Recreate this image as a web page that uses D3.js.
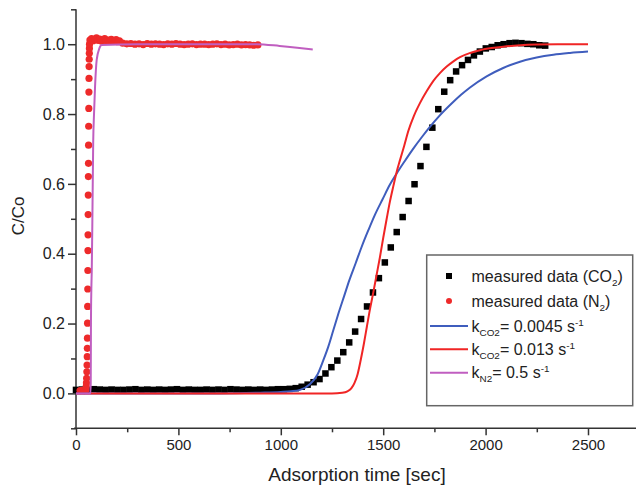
<!DOCTYPE html>
<html>
<head>
<meta charset="utf-8">
<script src="https://cdn.jsdelivr.net/npm/d3@7"></script>
<style>
  html, body { margin: 0; padding: 0; background: #fff; }
  svg { display: block; font-family: "Liberation Sans", Arial, sans-serif; }
</style>
</head>
<body>
<svg id="chart" width="636" height="491"></svg>
<script>
// ---------- data ----------
const xTicks = [0, 500, 1000, 1500, 2000, 2500];
const xMinorTicks = [250, 750, 1250, 1750, 2250];
const yTicks = [0.0, 0.2, 0.4, 0.6, 0.8, 1.0];
const yMinorTicks = [-0.1, 0.1, 0.3, 0.5, 0.7, 0.9, 1.1];

// measured CO2 (black squares)
const co2Time = [0,29,58,87,116,145,174,203,232,261,290,319,348,377,406,435,464,493,522,551,
  580,609,638,667,696,725,754,783,812,841,870,899,928,957,986,1015,1044,1073,1102,1131,
  1160,1189,1218,1247,1276,1305,1334,1363,1392,1421,1450,1479,1508,1537,1566,1595,1624,1653,1682,1711,
  1740,1769,1798,1827,1856,1885,1914,1943,1972,2001,2030,2059,2088,2117,2146,2175,2204,2233,2262,2291];
const co2Value = [0.010,0.011,0.010,0.012,0.011,0.010,0.011,0.010,0.010,0.011,0.012,0.010,0.011,0.010,0.011,0.010,0.011,0.012,0.010,0.011,
  0.010,0.010,0.011,0.010,0.011,0.010,0.012,0.011,0.010,0.011,0.010,0.011,0.010,0.011,0.012,0.012,0.013,0.015,0.019,0.025,
  0.032,0.041,0.057,0.075,0.094,0.118,0.146,0.177,0.213,0.249,0.289,0.330,0.375,0.418,0.462,0.505,0.551,0.599,0.651,0.706,
  0.761,0.814,0.864,0.897,0.922,0.940,0.955,0.968,0.979,0.988,0.992,0.997,1.000,1.003,1.004,1.003,1.001,1.000,0.997,0.996];

// measured N2 (red dots)
const n2Time = [20,30,40,48,
  50,51,52,53,54,55,55.5,56,56.5,57,57.5,58,58.5,59,59.5,60,60.5,61,61.5,62,62.5,63,63.5,64,64.5,65,65.5,66,
  68,76,84,92,100,108,116,124,132,140,148,156,164,172,180,188,196,204,212,
  228,248,268,288,308,328,348,368,388,408,428,448,468,488,508,528,548,568,588,608,
  628,648,668,688,708,728,748,768,788,808,828,848,868,888];
const n2Value = [0.008,0.009,0.008,0.010,
  0.020,0.030,0.043,0.062,0.081,0.105,0.129,0.158,0.201,0.249,0.299,0.352,0.409,0.454,0.512,0.568,0.621,0.659,0.711,0.765,0.816,0.863,0.902,0.936,0.957,0.974,0.988,1.000,
  1.012,1.016,1.010,1.014,1.018,1.011,1.015,1.009,1.013,1.016,1.010,1.012,1.008,1.014,1.011,1.009,1.013,1.007,1.010,
  1.003,1.001,1.002,1.000,1.001,0.999,1.002,1.000,1.001,1.000,0.999,1.001,1.000,1.002,1.000,0.999,1.000,1.001,0.999,1.000,
  1.000,0.999,1.000,1.001,0.999,1.000,0.998,0.999,1.000,0.998,0.999,0.998,0.997,0.998];

// model k_CO2 = 0.0045 (blue)
const blueTime = [0,700,900,1000,1050,1094,1143,1180,1207,1232,1256,1281,1310,1334,1365,1395,1428,1460,1497,1533,
  1566,1605,1647,1690,1729,1770,1834,1880,1924,2005,2086,2168,2249,2331,2412,2500];
const blueValue = [0,0,0.002,0.004,0.006,0.010,0.027,0.055,0.094,0.134,0.180,0.228,0.280,0.323,0.372,0.420,0.468,0.512,0.556,0.598,
  0.630,0.665,0.701,0.735,0.764,0.792,0.830,0.855,0.876,0.908,0.932,0.950,0.962,0.970,0.975,0.979];

// model k_CO2 = 0.013 (red)
const redTime = [0,1250,1300,1325,1345,1360,1375,1390,1405,1420,1435,1452,1468,1484,1500,1517,1533,1550,1566,1582,
  1603,1623,1650,1680,1712,1745,1778,1810,1843,1875,1925,1973,2030,2086,2170,2249,2350,2500];
const redValue = [0,0,0.002,0.006,0.015,0.030,0.055,0.095,0.140,0.190,0.240,0.290,0.340,0.390,0.445,0.500,0.550,0.595,0.635,0.668,
  0.710,0.752,0.795,0.832,0.865,0.895,0.918,0.936,0.951,0.963,0.975,0.983,0.989,0.993,0.997,0.999,1.000,1.000];

// model k_N2 = 0.5 (magenta)
const pinkTime = [0,70,72,73,75,77,80,84,88,93,101,114,125,300,600,882,994,1080,1156];
const pinkValue = [0,0,0.03,0.20,0.30,0.353,0.50,0.72,0.80,0.878,0.955,0.988,0.998,1.000,1.000,1.000,0.995,0.990,0.985];

// ---------- drawing ----------
const svg = d3.select("#chart");
const x = d3.scaleLinear().domain([0, 2500]).range([76, 588]);
const y = d3.scaleLinear().domain([-0.1, 1.1]).range([428.3, 9.3]);

const axisColor = "#333";
const C_BLUE = "#3f5dbd", C_RED = "#f02525", C_DOT = "#ee2a2a", C_PINK = "#c05ec0";

// axes
const xAxisG = svg.append("g").attr("transform", `translate(0,${y(-0.1)})`);
xAxisG.call(d3.axisBottom(x).tickValues(xTicks).tickSize(7).tickPadding(4).tickFormat(d3.format("d")));
const xMinorG = svg.append("g").attr("transform", `translate(0,${y(-0.1)})`);
xMinorG.call(d3.axisBottom(x).tickValues(xMinorTicks).tickSize(4).tickFormat(""));
[xAxisG, xMinorG].forEach(g => {
  g.select(".domain").remove();
  g.selectAll("line").attr("stroke", axisColor).attr("stroke-width", 1.5);
});
xAxisG.selectAll("text").attr("font-size", 15).attr("fill", "#222")
  .attr("font-family", "'Liberation Sans', Arial, sans-serif");
svg.append("line").attr("x1", 74).attr("x2", 636).attr("y1", y(-0.1)).attr("y2", y(-0.1))
  .attr("stroke", axisColor).attr("stroke-width", 1.5);

const yAxisG = svg.append("g").attr("transform", `translate(${x(0)},0)`);
yAxisG.call(d3.axisLeft(y).tickValues(yTicks).tickSize(8).tickPadding(3).tickFormat(d3.format(".1f")));
const yMinorG = svg.append("g").attr("transform", `translate(${x(0)},0)`);
yMinorG.call(d3.axisLeft(y).tickValues(yMinorTicks).tickSize(5).tickFormat(""));
[yAxisG, yMinorG].forEach(g => {
  g.select(".domain").remove();
  g.selectAll("line").attr("stroke", axisColor).attr("stroke-width", 1.5);
});
yAxisG.selectAll("text").attr("font-size", 16).attr("fill", "#222")
  .attr("font-family", "'Liberation Sans', Arial, sans-serif");
svg.append("line").attr("x1", x(0)).attr("x2", x(0)).attr("y1", y(1.1)).attr("y2", y(-0.1))
  .attr("stroke", axisColor).attr("stroke-width", 1.5);

// axis titles
svg.append("text").attr("x", 357).attr("y", 481).attr("text-anchor", "middle")
  .attr("font-size", 19).attr("fill", "#222").text("Adsorption time [sec]");
svg.append("text").attr("transform", "translate(24,216) rotate(-90)").attr("text-anchor", "middle")
  .attr("font-size", 17).attr("fill", "#222").text("C/Co");

// measured CO2 squares
const sq = 6.5;
svg.append("g").selectAll("rect").data(co2Time.map((t, i) => [t, co2Value[i]])).join("rect")
  .attr("x", d => x(d[0]) - sq / 2).attr("y", d => y(d[1]) - sq / 2)
  .attr("width", sq).attr("height", sq).attr("fill", "#000");

// measured N2 dots
svg.append("g").selectAll("circle").data(n2Time.map((t, i) => [t, n2Value[i]])).join("circle")
  .attr("cx", d => x(d[0])).attr("cy", d => y(d[1])).attr("r", 3.6).attr("fill", C_DOT);

// model lines
const line = d3.line().x(d => x(d[0])).y(d => y(d[1])).curve(d3.curveMonotoneX);
function drawLine(ts, vs, color) {
  svg.append("path").datum(ts.map((t, i) => [t, vs[i]])).attr("d", line)
    .attr("fill", "none").attr("stroke", color).attr("stroke-width", 2);
}
drawLine(blueTime, blueValue, C_BLUE);
drawLine(redTime, redValue, C_RED);
drawLine(pinkTime, pinkValue, C_PINK);

// legend
const lg = svg.append("g");
lg.append("rect").attr("x", 426.7).attr("y", 255).attr("width", 206).attr("height", 150.7)
  .attr("fill", "#fff").attr("stroke", "#666").attr("stroke-width", 1.5);
const rows = [276, 301, 326, 349.3, 372.7];
const symX = 449, lx1 = 430, lx2 = 468, tx = 471.5, fs = 16;
lg.append("rect").attr("x", symX - 3).attr("y", rows[0] - 3).attr("width", 6).attr("height", 6).attr("fill", "#000");
lg.append("circle").attr("cx", symX).attr("cy", rows[1]).attr("r", 3).attr("fill", C_DOT);
[[rows[2], C_BLUE], [rows[3], C_RED], [rows[4], C_PINK]].forEach(([ry, c]) => {
  lg.append("line").attr("x1", lx1).attr("x2", lx2).attr("y1", ry).attr("y2", ry)
    .attr("stroke", c).attr("stroke-width", 2);
});
function legendText(ry, parts) {
  const t = lg.append("text").attr("x", tx).attr("y", ry + 5.5).attr("font-size", fs).attr("fill", "#222");
  let shift = 0;
  parts.forEach(([str, kind]) => {
    let target = kind === "sub" ? 4 : kind === "sup" ? -6 : 0;
    const sp = t.append("tspan").attr("dy", target - shift).text(str);
    if (kind) sp.attr("font-size", fs * 0.62);
    shift = target;
  });
}
legendText(rows[0], [["measured data (CO", null], ["2", "sub"], [")", null]]);
legendText(rows[1], [["measured data (N", null], ["2", "sub"], [")", null]]);
legendText(rows[2], [["k", null], ["CO2", "sub"], ["= 0.0045 s", null], ["-1", "sup"]]);
legendText(rows[3], [["k", null], ["CO2", "sub"], ["= 0.013 s", null], ["-1", "sup"]]);
legendText(rows[4], [["k", null], ["N2", "sub"], ["= 0.5 s", null], ["-1", "sup"]]);
</script>
</body>
</html>
